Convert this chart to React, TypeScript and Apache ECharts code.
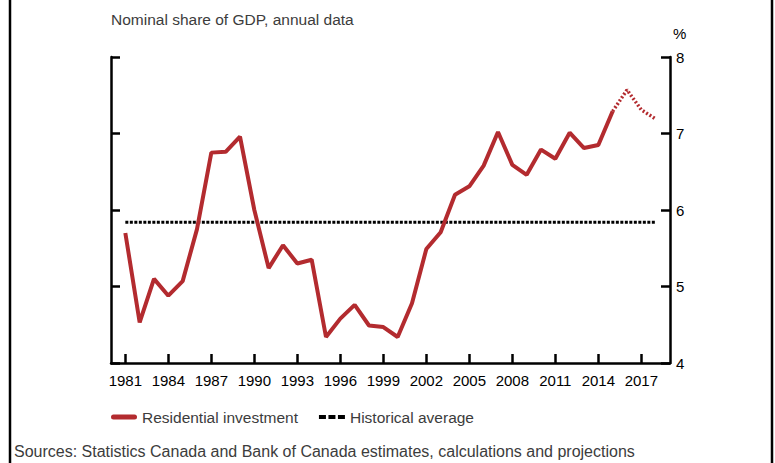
import React, { useEffect, useRef } from "react";
import * as echarts from "echarts";

const years: number[] = [
  1981, 1982, 1983, 1984, 1985, 1986, 1987, 1988, 1989, 1990,
  1991, 1992, 1993, 1994, 1995, 1996, 1997, 1998, 1999, 2000,
  2001, 2002, 2003, 2004, 2005, 2006, 2007, 2008, 2009, 2010,
  2011, 2012, 2013, 2014, 2015, 2016, 2017, 2018,
];
const residentialInvestment: number[] = [
  5.7, 4.53, 5.1, 4.88, 5.07, 5.75, 6.75, 6.76, 6.96, 6.0,
  5.24, 5.54, 5.3, 5.35, 4.34, 4.58, 4.76, 4.49, 4.47, 4.34,
  4.78, 5.49, 5.71, 6.2, 6.31, 6.58, 7.02, 6.59, 6.46, 6.79,
  6.67, 7.01, 6.81, 6.85, 7.29, 7.57, 7.31, 7.19,
];
const projectionStartYear = 2015;
const historicalAverage = 5.84;
const xTickLabels: number[] = [1981, 1984, 1987, 1990, 1993, 1996, 1999, 2002, 2005, 2008, 2011, 2014, 2017];

const subtitle = "Nominal share of GDP, annual data";
const sourcesText = "Sources: Statistics Canada and Bank of Canada estimates, calculations and projections";
const seriesNames = ["Residential investment", "Historical average"];

const RED = "#b32b2f";
const FONT = "Liberation Sans, Arial, sans-serif";

export default function App() {
  const ref = useRef<HTMLDivElement>(null);

  useEffect(() => {
    if (!ref.current) return;
    const chart = echarts.init(ref.current, undefined, { renderer: "svg" });

    const actual = years.map((y, i) => [y, y <= projectionStartYear ? residentialInvestment[i] : null]);
    const projected = years.map((y, i) => [y, y >= projectionStartYear ? residentialInvestment[i] : null]);
    const avg = [
      [years[0], historicalAverage],
      [years[years.length - 1], historicalAverage],
    ];

    const yAxisCommon = {
      type: "value",
      min: 4,
      max: 8,
      interval: 1,
      splitLine: { show: false },
      axisLine: { show: true, onZero: false, lineStyle: { color: "#000", width: 2.5 } },
      axisTick: { show: true, inside: true, length: 9, lineStyle: { color: "#000", width: 2.5 } },
    };

    chart.setOption({
      animation: false,
      backgroundColor: "#fff",
      textStyle: { fontFamily: FONT },
      title: {
        text: subtitle,
        left: 106,
        top: 6,
        textStyle: { fontSize: 15.5, fontWeight: "normal", color: "#3c3c3c", fontFamily: FONT },
      },
      grid: { left: 111, right: 105, top: 57, bottom: 100, containLabel: false },
      xAxis: {
        type: "value",
        min: 1980,
        max: 2019,
        splitLine: { show: false },
        axisLine: { show: true, onZero: false, lineStyle: { color: "#000", width: 2.5 } },
        axisTick: {
          show: true,
          inside: true,
          length: 9,
          customValues: xTickLabels,
          lineStyle: { color: "#000", width: 2.5 },
        },
        axisLabel: {
          customValues: xTickLabels,
          color: "#000",
          fontSize: 15,
          margin: 10,
          fontFamily: FONT,
          formatter: (v: number) => String(v),
        },
      },
      yAxis: [
        { ...yAxisCommon, position: "left", axisLabel: { show: false } },
        {
          ...yAxisCommon,
          position: "right",
          axisLabel: { show: true, color: "#000", fontSize: 15, margin: 6, fontFamily: FONT },
        },
      ],
      legend: {
        left: 106,
        top: 404,
        itemGap: 21,
        itemWidth: 26,
        itemHeight: 5,
        textStyle: { fontSize: 15.5, color: "#3c3c3c", fontFamily: FONT },
        data: [
          { name: seriesNames[0], icon: "path://M2.5,0 H23.5 A2.5,2.5 0 0 1 23.5,5 H2.5 A2.5,2.5 0 0 1 2.5,0 Z" },
          {
            name: seriesNames[1],
            icon: "path://M0,0.5 h7 v4 h-7 z M9.5,0.5 h7 v4 h-7 z M19,0.5 h7 v4 h-7 z",
          },
        ],
      },
      series: [
        {
          name: seriesNames[0],
          type: "line",
          data: actual,
          symbol: "none",
          connectNulls: false,
          lineStyle: { color: RED, width: 4 },
          itemStyle: { color: RED },
          z: 3,
        },
        {
          name: seriesNames[0] + " (projection)",
          type: "line",
          data: projected,
          symbol: "none",
          connectNulls: false,
          lineStyle: { color: RED, width: 3.5, type: [2, 2] },
          itemStyle: { color: RED },
          z: 3,
        },
        {
          name: seriesNames[1],
          type: "line",
          data: avg,
          symbol: "none",
          lineStyle: { color: "#000", width: 3, type: [3, 1.5] },
          itemStyle: { color: "#000" },
          z: 2,
        },
      ],
      graphic: [
        {
          type: "rect",
          shape: { x: 10, y: -10, width: 762, height: 490 },
          style: { fill: "none", stroke: "#000", lineWidth: 2.5 },
          silent: true,
        },
        {
          type: "text",
          x: 673,
          y: 33,
          style: { text: "%", fontSize: 15, fill: "#000", fontFamily: FONT, textVerticalAlign: "middle" },
        },
        {
          type: "text",
          x: 14,
          y: 451,
          style: {
            text: sourcesText,
            fontSize: 16,
            fill: "#3c3c3c",
            fontFamily: FONT,
            textVerticalAlign: "middle",
          },
        },
      ],
    });

    return () => chart.dispose();
  }, []);

  return (
    <div
      ref={ref}
      style={{ position: "fixed", left: 0, top: 0, width: 775, height: 463 }}
    />
  );
}
